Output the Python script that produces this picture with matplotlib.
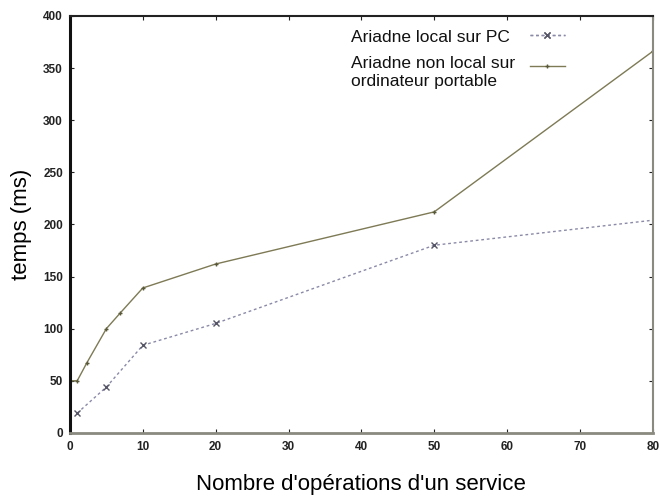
import matplotlib
matplotlib.use("Agg")
import matplotlib.pyplot as plt

plt.rcParams['font.family'] = ['Liberation Sans', 'DejaVu Sans']

x_local = [1, 5, 10, 20, 50, 80]
y_local = [19, 44, 84, 105, 180, 204]
x_nonlocal = [0, 1, 2.3, 5, 6.9, 10, 20, 50, 80]
y_nonlocal = [50, 50, 67, 100, 115, 139, 162, 212, 366]
labels = ["Ariadne local sur PC", "Ariadne non local sur\nordinateur portable"]
xticks = [0, 10, 20, 30, 40, 50, 60, 70, 80]
yticks = [0, 50, 100, 150, 200, 250, 300, 350, 400]

fig = plt.figure(figsize=(6.6, 4.97), dpi=100)
ax = fig.add_axes([0.106, 0.129, 0.883, 0.839])

l1, = ax.plot(x_local, y_local, linestyle=(0, (2, 2)), color='#8a8aa8', lw=1.0,
              marker='x', markersize=4, markevery=[0, 1, 2, 3, 4], mec='#555566')
l2, = ax.plot(x_nonlocal, y_nonlocal, linestyle='-', color='#7d7a55', lw=1.0,
              marker='+', markersize=3, mec='#5a5a3a')

ax.set_xlim(0, 80)
ax.set_ylim(0, 400)
ax.set_xticks(xticks)
ax.set_yticks(yticks)
ax.tick_params(direction='in', length=3, width=0.8, top=True, right=True,
               labelsize=8.5, colors='#222222')
ax.tick_params(axis='x', pad=6)
ax.tick_params(axis='y', pad=5)
for lab in ax.get_xticklabels() + ax.get_yticklabels():
    lab.set_fontweight('bold')

ax.spines['left'].set_linewidth(2.2)
ax.spines['left'].set_color('#111111')
ax.spines['top'].set_linewidth(1.5)
ax.spines['top'].set_color('#222222')
ax.spines['bottom'].set_linewidth(2.0)
ax.spines['bottom'].set_color('#8a8a80')
ax.spines['right'].set_linewidth(1.5)
ax.spines['right'].set_color('#8a8a80')

ax.set_ylabel("temps (ms)", fontsize=16, labelpad=8)
ax.set_xlabel("Nombre d'opérations d'un service", fontsize=16, labelpad=15)

# legend: handles on the right, labels left-aligned
leg1 = fig.legend([l1], [''], loc='center left', bbox_to_anchor=(530 / 660, 1 - 36 / 497),
                  frameon=False, fontsize=12.5, handlelength=2.0, handletextpad=0, borderpad=0,
                  borderaxespad=0)
leg2 = fig.legend([l2], [''], loc='center left', bbox_to_anchor=(530 / 660, 1 - 67 / 497),
                  frameon=False, fontsize=12.5, handlelength=2.0, handletextpad=0, borderpad=0,
                  borderaxespad=0)
fig.add_artist(leg1)
fig.text(351 / 660, 1 - 38 / 497, labels[0], fontsize=12.5, va='center', ha='left', color='#111111')
fig.text(351 / 660, 1 - 72.5 / 497, labels[1], fontsize=12.5, va='center', ha='left',
         color='#111111', linespacing=1.2)

fig.savefig("out.png", dpi=100)
